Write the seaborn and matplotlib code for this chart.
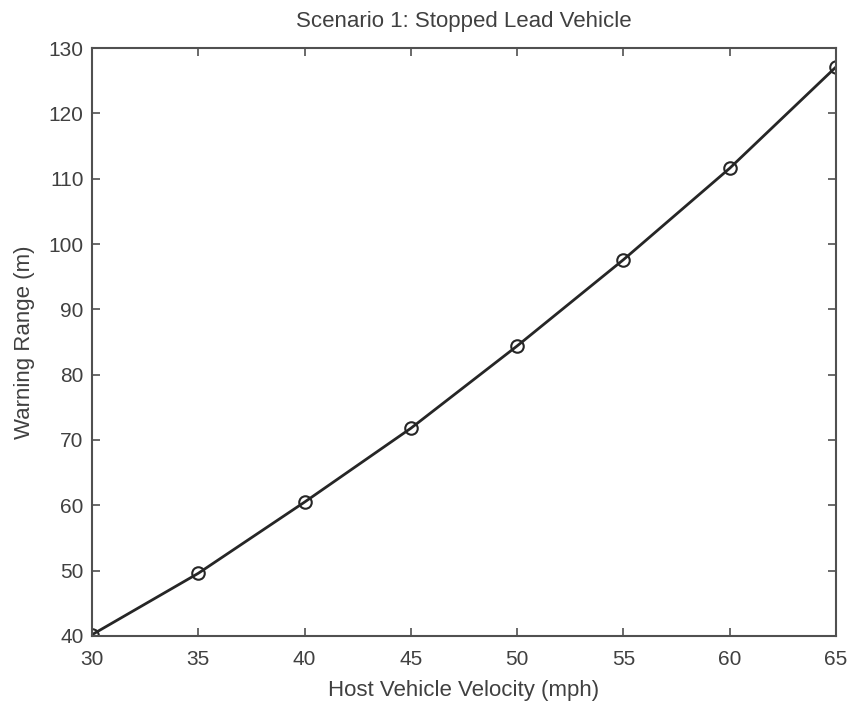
import pandas as pd
import matplotlib.pyplot as plt
import seaborn as sns

velocity = [30, 35, 40, 45, 50, 55, 60, 65]
warning_range = [40.2, 49.6, 60.5, 71.8, 84.4, 97.6, 111.6, 127.1]

sns.set_style('white')
plt.rcParams['font.family'] = ['Liberation Sans', 'DejaVu Sans']

df = pd.DataFrame({'velocity': velocity, 'range': warning_range})

fig = plt.figure(figsize=(8.49, 7.08), dpi=100)
ax = fig.add_axes([0.1084, 0.1017, 0.8763, 0.8305])

sns.lineplot(data=df, x='velocity', y='range', ax=ax, color='#262626',
             linewidth=2, marker='o', markersize=9, markerfacecolor='none',
             markeredgecolor='#262626', markeredgewidth=1.5)

ax.set_xlim(30, 65)
ax.set_ylim(40, 130)
ax.set_xticks(range(30, 66, 5))
ax.set_yticks(range(40, 131, 10))

grey = '#505050'
for s in ax.spines.values():
    s.set_color(grey)
    s.set_linewidth(1.5)
ax.tick_params(direction='in', length=6, width=1.2, color=grey,
               labelsize=15, labelcolor='#404040', top=True, right=True,
               bottom=True, left=True)
ax.tick_params(axis='x', pad=10)
ax.tick_params(axis='y', pad=6)

ax.set_xlabel('Host Vehicle Velocity (mph)', fontsize=16, color='#404040', labelpad=8)
ax.set_ylabel('Warning Range (m)', fontsize=16, color='#404040', labelpad=10)
ax.set_title('Scenario 1: Stopped Lead Vehicle', fontsize=16, color='#404040', pad=15)

plt.savefig('out.png', dpi=100)
plt.close()
